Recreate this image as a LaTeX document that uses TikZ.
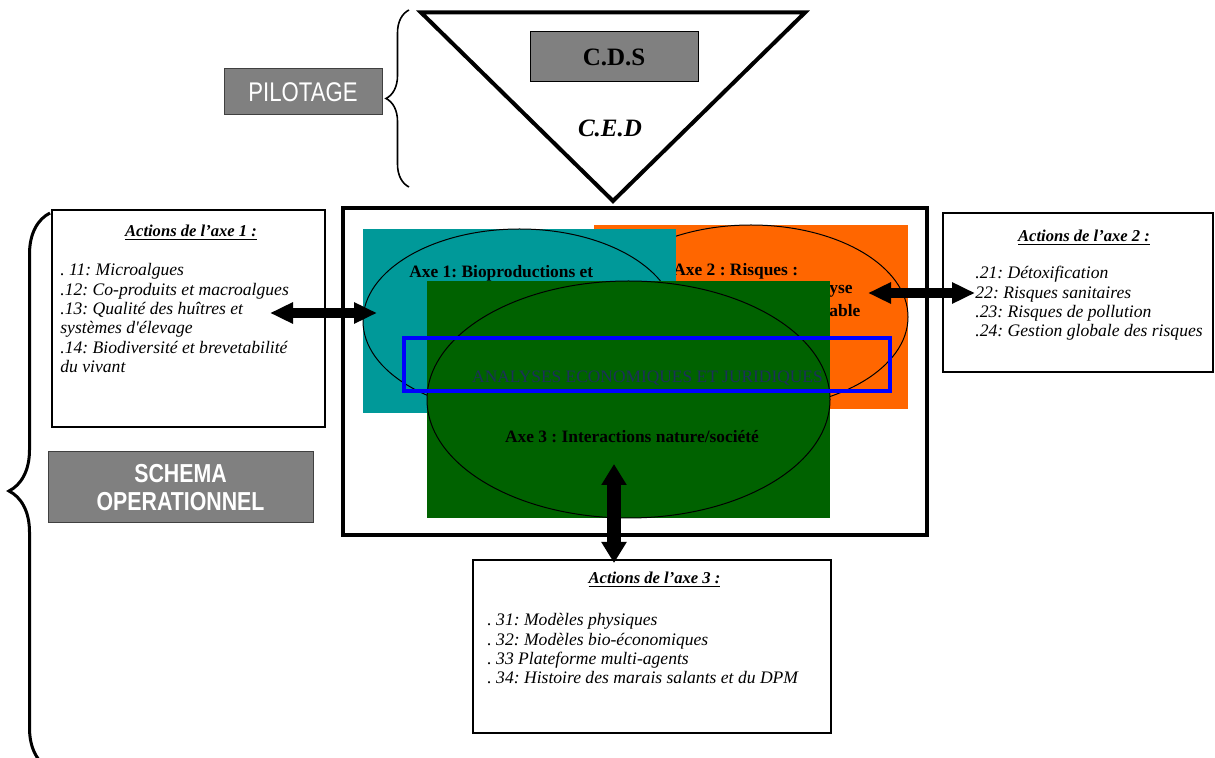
\documentclass[tikz,border=0pt]{standalone}
\usepackage{fontspec}
\setmainfont{Liberation Serif}[Ligatures=TeXOff]
\newfontfamily\etroite[FakeStretch=0.82]{Liberation Sans}
\usepackage{xcolor}
\usepackage{tikz}
\usetikzlibrary{shapes.geometric, arrows.meta, decorations.pathreplacing}
\frenchspacing

\definecolor{axeun}{RGB}{0,153,153}
\definecolor{axedeux}{RGB}{255,102,0}
\definecolor{axetrois}{RGB}{0,98,0}
\definecolor{gristitre}{RGB}{128,128,128}
\definecolor{texteanalyse}{RGB}{28,48,90}

\begin{document}
\begin{tikzpicture}[
    x=0.5pt, y=-0.5pt,
    % Styles communs pour les zones, les boites et les fleches.
    every node/.style={inner sep=0pt},
    zone/.style={rectangle, draw=none},
    bulle/.style={ellipse, draw, line width=0.5pt, inner sep=0pt},
    titre axe/.style={font=\fontsize{8.7}{9.5}\selectfont\bfseries},
    actions/.style={rectangle, draw, line width=0.6pt},
    titre liste/.style={font=\fontsize{8.3}{9.6}\selectfont\bfseries\itshape},
    liste/.style={align=left, anchor=north west, font=\fontsize{8.8}{9.7}\selectfont\itshape},
    bandeau/.style={rectangle, draw=black!75, line width=0.5pt, fill=gristitre, text=white, align=center},
    fleche/.style={line width=4.8pt, {Triangle[length=11.5pt, width=10pt]}-{Triangle[length=11.5pt, width=10pt]}},
    fleche large/.style={line width=7pt, {Triangle[length=10.5pt, width=12pt]}-{Triangle[length=10.5pt, width=12pt]}},
    accolade/.style={decorate, decoration={brace, amplitude=#1}}
]
\useasboundingbox (0,0) rectangle (1215,758);

% Axe 2 : zone orange, dessinee en premier (recouverte par les deux autres).
\node[zone, fill=axedeux, minimum width=157pt, minimum height=92pt] (z2) at (751,317) {};
\node[bulle, minimum width=157pt, minimum height=92pt] (e2) at (z2.center) {};
\node[titre axe, anchor=west] (t2) at (673,271) {Axe 2 : Risques :};
\node[titre axe, anchor=west] (t2b) at (829,291) {yse};
\node[titre axe, anchor=west] (t2c) at (829,311) {able};

% Axe 1 : zone turquoise.
\node[zone, fill=axeun, minimum width=156.5pt, minimum height=92pt] (z1) at (519.5,321) {};
\node[bulle, minimum width=156.5pt, minimum height=92pt] (e1) at (z1.center) {};
\node[titre axe, anchor=west] (t1) at (409,273) {Axe 1: Bioproductions et};

% Axe 3 : zone verte, au premier plan.
\node[zone, fill=axetrois, minimum width=201.5pt, minimum height=118.5pt] (z3) at (628.5,399.5) {};
\node[bulle, minimum width=201.5pt, minimum height=118.5pt] (e3) at (z3.center) {};
\node[titre axe] (t3) at (632,437) {Axe 3 : Interactions nature/soci\'et\'e};

% Bande transversale des analyses.
\node[rectangle, draw=blue, line width=2.3pt, minimum width=243pt, minimum height=26.5pt] (analyse) at (647,364.5) {};
\node[font=\fontsize{8.7}{9.5}\selectfont, text=texteanalyse] (tanalyse) at (647.5,378) {ANALYSES ECONOMIQUES ET JURIDIQUES};

% Fleches doubles entre les axes et leurs actions.
\coordinate (f1g) at (270,313);
\coordinate (f1d) at (377,313);
\coordinate (f2g) at (868,293);
\coordinate (f2d) at (975,293);
\coordinate (f3h) at (614,464);
\coordinate (f3b) at (614,563);
\draw[fleche] (f1g) -- (f1d);
\draw[fleche] (f2g) -- (f2d);
\draw[fleche large] (f3h) -- (f3b);

% Pilotage : triangle C.D.S / C.E.D et accolade.
\coordinate (trig) at (421,12.5);
\coordinate (trid) at (805,12.5);
\coordinate (trib) at (613,201);
\draw[line width=2pt] (trig) -- (trid) -- (trib) -- cycle;
\node[rectangle, draw, line width=0.5pt, fill=gristitre, minimum width=84pt, minimum height=25pt,
      font=\fontsize{12.5}{14}\selectfont\bfseries] (cds) at (614,57) {C.D.S};
\node[font=\fontsize{12.5}{14}\selectfont\bfseries\itshape] (ced) at (610,128) {C.E.D};
\node[bandeau, minimum width=79pt, minimum height=23pt, font=\etroite\fontsize{13.5}{14}\selectfont] (pilotage) at (303,92) {PILOTAGE};
\coordinate (acc1b) at (409,187);
\coordinate (acc1h) at (409,10);
\draw[accolade=11.5pt, line width=0.8pt] (acc1b) -- (acc1h);

% Cadre du schema operationnel.
\node[rectangle, draw, line width=2pt, minimum width=292pt, minimum height=163.5pt] (cadre) at (635,371.5) {};

% Boites des actions de chaque axe.
\node[actions, minimum width=136.5pt, minimum height=108.5pt] (act1) at (188.5,318.5) {};
\node[titre liste] (tact1) at (191,233) {\underline{Actions de l’axe 1 :}};
\node[liste] (lact1) at (60,263) {. 11: Microalgues\\.12: Co-produits et macroalgues\\.13: Qualit\'e des hu\^itres et\\syst\`emes d'\'elevage\\.14: Biodiversit\'e et brevetabilit\'e\\du vivant};

\node[actions, minimum width=135pt, minimum height=79.5pt] (act2) at (1078,292.5) {};
\node[titre liste] (tact2) at (1084,238) {\underline{Actions de l’axe 2 :}};
\node[liste] (lact2) at (975,266) {.21: D\'etoxification\\ 22: Risques sanitaires\\.23: Risques de pollution\\.24: Gestion globale des risques};

\node[actions, minimum width=179pt, minimum height=86.5pt] (act3) at (652,646.5) {};
\node[titre liste] (tact3) at (654.5,580) {\underline{Actions de l’axe 3 :}};
\node[liste] (lact3) at (487,613) {. 31: Mod\`eles physiques\\. 32: Mod\`eles bio-\'economiques\\. 33 Plateforme multi-agents\\. 34: Histoire des marais salants et du DPM};

% Schema operationnel et grande accolade.
\node[bandeau, minimum width=132.5pt, minimum height=35.5pt, font=\etroite\bfseries\fontsize{13}{14}\selectfont] (schema) at (180.5,487.5) {SCHEMA\\OPERATIONNEL};
\coordinate (acc2b) at (50,769);
\coordinate (acc2h) at (50,213);
\draw[accolade=20.5pt, line width=1.5pt] (acc2b) -- (acc2h);
\end{tikzpicture}
\end{document}
